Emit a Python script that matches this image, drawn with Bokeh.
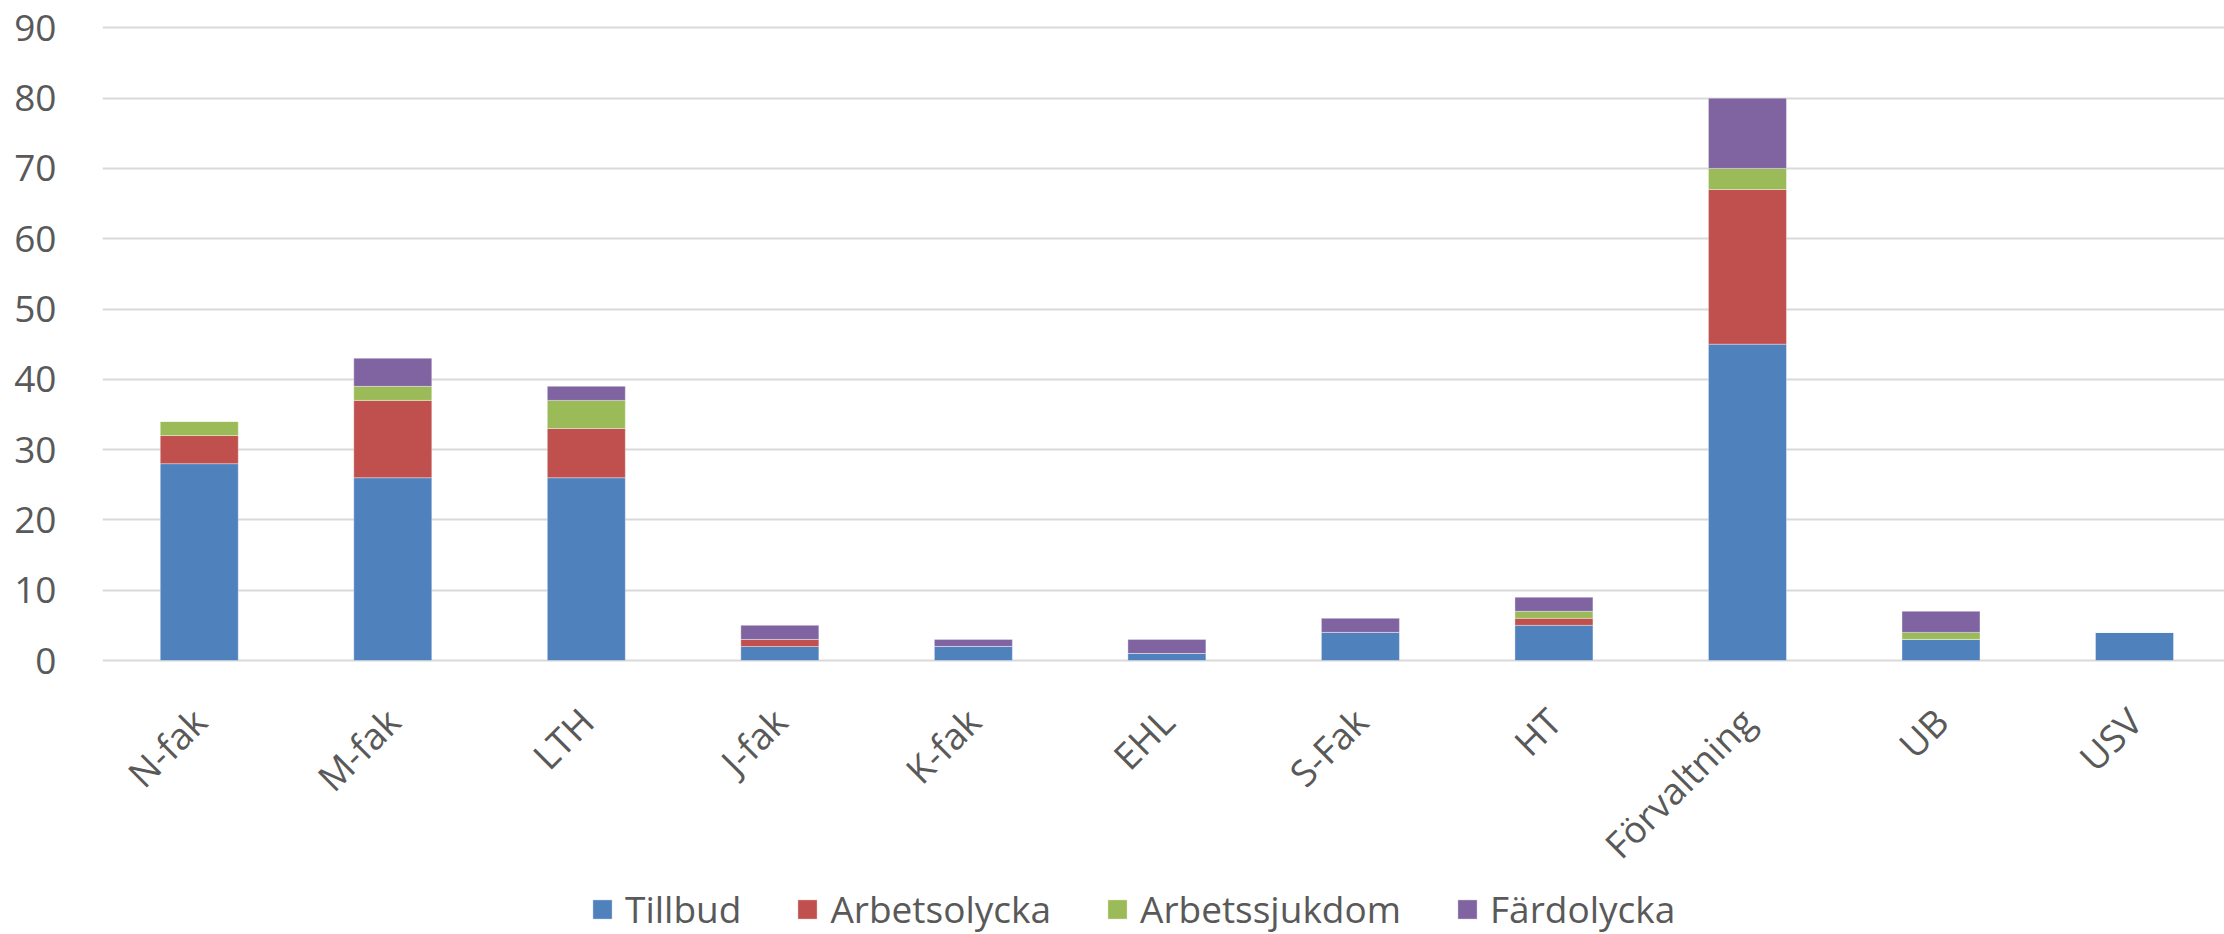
import math
from bokeh.plotting import figure
from bokeh.models import Range1d, FixedTicker, Legend, LegendItem, ColumnDataSource
from bokeh.core.properties import value
from bokeh.embed import file_html
from bokeh.resources import INLINE

categories = ["N-fak", "M-fak", "LTH", "J-fak", "K-fak", "EHL", "S-Fak", "HT", "Förvaltning", "UB", "USV"]
series = ["Tillbud", "Arbetsolycka", "Arbetssjukdom", "Färdolycka"]
tillbud = [28, 26, 26, 2, 2, 1, 4, 5, 45, 3, 4]
arbetsolycka = [4, 11, 7, 1, 0, 0, 0, 1, 22, 0, 0]
arbetssjukdom = [2, 2, 4, 0, 0, 0, 0, 1, 3, 1, 0]
fardolycka = [0, 4, 2, 2, 1, 2, 2, 2, 10, 3, 0]
y_ticks = [0, 10, 20, 30, 40, 50, 60, 70, 80, 90]
colors = ["#4F81BD", "#C0504D", "#9BBB59", "#8064A2"]

xs = list(range(len(categories)))
source = ColumnDataSource(dict(x=xs, Tillbud=tillbud, Arbetsolycka=arbetsolycka,
                               Arbetssjukdom=arbetssjukdom, **{"Färdolycka": fardolycka}))

FONT = "Open Sans"
TXT = "#595959"

# frame spans the whole height so the category labels and legend sit inside it
px_per_unit = 652 / 92.75
y_bottom = -(934 - 660) / px_per_unit

p = figure(frame_width=2122, frame_height=926,
           x_range=Range1d(-0.5, 10.465), y_range=Range1d(y_bottom, 92.75),
           x_axis_location=None,
           output_backend="svg", toolbar_location=None,
           min_border_left=102, min_border_right=0, min_border_top=8, min_border_bottom=0)
p.outline_line_color = None

renderers = p.vbar_stack(series, x="x", width=0.403, source=source, color=colors,
                         line_color="white", line_alpha=0.35, line_width=1)

p.xgrid.grid_line_color = None
p.ygrid.grid_line_color = "#d9d9d9"
p.ygrid.grid_line_width = 2
p.yaxis.ticker = FixedTicker(ticks=y_ticks)
p.yaxis.axis_line_color = None
p.yaxis.major_tick_line_color = None
p.yaxis.minor_tick_line_color = None
p.yaxis.major_label_standoff = 40
p.yaxis.major_label_text_font = FONT
p.yaxis.major_label_text_font_size = "37px"
p.yaxis.major_label_text_color = TXT

# category labels, rotated 45 degrees, ending at each category centre below the baseline
label_y = -(714 - 660) / px_per_unit
p.text(x=xs, y=[label_y] * len(xs), text=categories, angle=math.pi / 4,
       text_align="right", text_baseline="middle",
       text_font=value(FONT), text_font_size="37px", text_color=TXT)

legend = Legend(items=[LegendItem(label=s, renderers=[r]) for s, r in zip(series, renderers)],
                orientation="horizontal", location=(488, 0),
                glyph_width=24, glyph_height=24, label_standoff=11, spacing=54,
                padding=0, margin=0, border_line_color=None, background_fill_alpha=0,
                label_text_font=FONT, label_text_font_size="37px", label_text_color=TXT)
p.add_layout(legend, "center")

open("out.html", "w").write(file_html(p, INLINE))
